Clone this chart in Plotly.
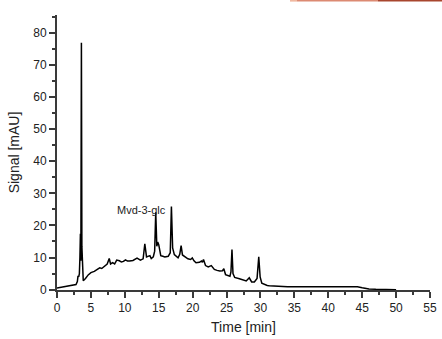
import plotly.graph_objects as go

# Chromatogram
time_min = [
    0, 0.5, 1.0, 1.5, 2.0, 2.5, 2.8, 3.0, 3.1, 3.2,
    3.3, 3.38, 3.45, 3.52, 3.6, 3.67, 3.75, 3.87, 4.2, 4.6,
    5.0, 5.5, 6.0, 6.3, 6.6, 7.0, 7.4, 7.7, 7.9, 8.2,
    8.5, 8.8, 9.2, 9.5, 9.8, 10.1, 10.4, 10.7, 11.2, 11.8,
    12.3, 12.7, 12.95, 13.2, 13.5, 13.7, 13.9, 14.2, 14.4, 14.56,
    14.72, 14.85, 15.0, 15.3, 15.6, 15.9, 16.4, 16.7, 16.87, 17.05,
    17.3, 17.85, 18.1, 18.3, 18.5, 18.8, 19.3, 19.7, 19.95, 20.2,
    20.5, 21.0, 21.3, 21.45, 21.6, 21.9, 22.3, 22.75, 23.2, 23.6,
    24.0, 24.4, 24.6, 24.85, 25.2, 25.5, 25.65, 25.8, 25.95, 26.2,
    26.9, 27.6, 27.9, 28.35, 28.7, 29.1, 29.5, 29.75, 29.95, 30.2,
    30.6, 31.0, 31.3, 32.0, 32.8, 34, 35.2, 37, 39, 40.1,
    42, 43.5, 44.3, 45, 45.5, 46, 47, 48, 49, 50,
]
signal_mAU = [
    0.5, 0.7, 0.9, 1.1, 1.3, 1.4, 1.6, 2.5, 4.3, 4.0,
    5.0, 10, 17.4, 9, 76.9, 13.4, 4.5, 2.8, 3.5, 4.6,
    5.3, 5.7, 6.4, 6.8, 6.6, 7.2, 8.0, 9.7, 8.0, 8.4,
    8.0, 9.2, 9.0, 8.6, 8.8, 9.3, 8.9, 8.9, 9.1, 9.8,
    9.2, 9.6, 14.3, 10.2, 10.4, 10.6, 9.7, 10.2, 12.0, 24.1,
    13.5, 14.8, 14.0, 10.6, 10.4, 10.2, 10.4, 11.5, 25.9, 13,
    10.9, 9.9, 11.0, 13.7, 10.8, 10.4, 9.6, 9.4, 9.9, 9.0,
    8.4, 8.5, 8.9, 8.5, 9.4, 7.5, 7.1, 7.5, 6.3, 6.0,
    5.8, 5.9, 6.5, 4.7, 4.3, 4.2, 5.5, 12.5, 5.0, 3.8,
    3.4, 3.0, 2.7, 3.7, 2.4, 2.4, 3.5, 10.2, 4.0, 2.0,
    1.6, 1.3, 1.2, 1.1, 1.0, 0.95, 0.9, 0.9, 0.9, 0.9,
    0.9, 0.95, 0.9, 0.6, 0.4, 0.25, 0.15, 0.1, 0.05, 0.0,
]

x_ticks = [0, 5, 10, 15, 20, 25, 30, 35, 40, 45, 50, 55]
y_ticks = [0, 10, 20, 30, 40, 50, 60, 70, 80]
peak_label = "Mvd-3-glc"
peak_label_pos = (12.4, 24.9)

FONT = "Liberation Sans, Arial, sans-serif"
AXCOL = "#3a3a3a"

fig = go.Figure()
fig.add_trace(go.Scatter(
    x=time_min, y=signal_mAU, mode="lines",
    line=dict(color="black", width=1.5),
    showlegend=False, hoverinfo="skip",
))

fig.add_annotation(
    x=peak_label_pos[0], y=peak_label_pos[1], text=peak_label,
    showarrow=False, font=dict(family=FONT, size=11, color="#222"),
)

# thin coloured strip at the very top right of the picture
strip = [
    (290, 297, "#f0b8a0"),
    (297, 378, "#dc8a72"),
    (378, 442, "#a8462e"),
]
L, R, T, B = 57, 430, 15, 290.5
for px0, px1, col in strip:
    fig.add_shape(
        type="rect", xref="paper", yref="paper",
        x0=(px0 - L) / (R - L), x1=(px1 - L) / (R - L),
        y0=(B - 1.6) / (B - T), y1=(B + 0.5) / (B - T),
        fillcolor=col, line=dict(width=0), layer="above",
    )

fig.update_layout(
    width=442, height=339,
    margin=dict(l=L, r=442 - R, t=T, b=339 - B, autoexpand=False),
    paper_bgcolor="white", plot_bgcolor="white",
    font=dict(family=FONT, size=12, color="#222"),
    xaxis=dict(
        range=[0, 55], tickvals=x_ticks, showgrid=False, zeroline=False,
        automargin=False,
        showline=True, linecolor=AXCOL, linewidth=2,
        ticks="outside", ticklen=6, tickwidth=1.5, tickcolor=AXCOL,
        minor=dict(dtick=2.5, tick0=0, ticks="outside", ticklen=3, tickwidth=1.5, tickcolor=AXCOL),
        tickfont=dict(size=12),
        title=dict(text="Time [min]", font=dict(size=14), standoff=8),
    ),
    yaxis=dict(
        range=[-0.1, 85.5], tickvals=y_ticks, showgrid=False, zeroline=False,
        automargin=False,
        showline=True, linecolor=AXCOL, linewidth=2,
        ticks="outside", ticklen=6, tickwidth=1.5, tickcolor=AXCOL,
        minor=dict(dtick=5, tick0=0, ticks="outside", ticklen=3, tickwidth=1.5, tickcolor=AXCOL),
        tickfont=dict(size=12),
        title=dict(text="Signal [mAU]", font=dict(size=14), standoff=10),
    ),
)

fig.write_html("out.html")
